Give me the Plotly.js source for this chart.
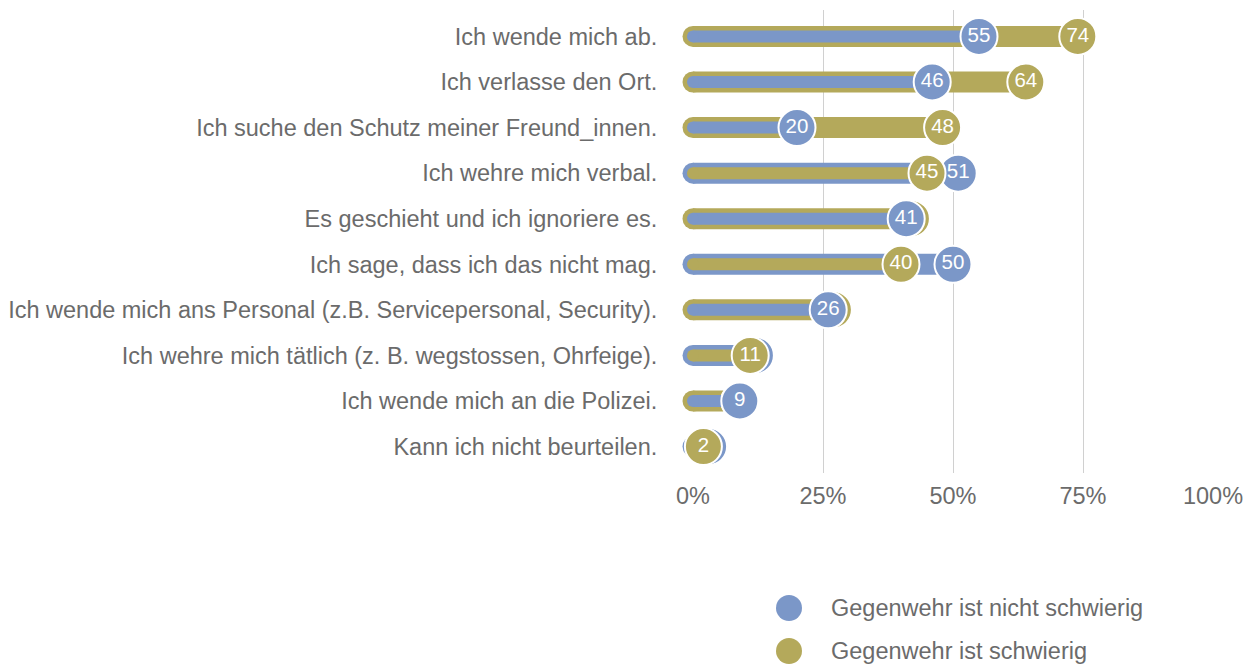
<!DOCTYPE html>
<html>
<head>
<meta charset="utf-8">
<script src="https://cdn.plot.ly/plotly-3.0.1.min.js"></script>
<style>html,body{margin:0;padding:0;background:#fff;}#chart{width:1252px;height:664px;}</style>
</head>
<body>
<div id="chart"></div>
<script>
const categories = [
  "Ich wende mich ab.",
  "Ich verlasse den Ort.",
  "Ich suche den Schutz meiner Freund_innen.",
  "Ich wehre mich verbal.",
  "Es geschieht und ich ignoriere es.",
  "Ich sage, dass ich das nicht mag.",
  "Ich wende mich ans Personal (z.B. Servicepersonal, Security).",
  "Ich wehre mich tätlich (z. B. wegstossen, Ohrfeige).",
  "Ich wende mich an die Polizei.",
  "Kann ich nicht beurteilen."
];
const nichtSchwierig = [55, 46, 20, 51, 41, 50, 26, 12, 9, 3];
const schwierig      = [74, 64, 48, 45, 42, 40, 27, 11, 9, 2];
const seriesNames = ["Gegenwehr ist nicht schwierig", "Gegenwehr ist schwierig"];
const seriesColors = ["#7b97c8", "#b4a95b"];
const xTickVals = [0, 25, 50, 75, 100];
const xTickText = ["0%", "25%", "50%", "75%", "100%"];

const FONT = "Liberation Sans, Arial, Helvetica, sans-serif";
const GRAY = "#6b6b6b";
const FS = 23.5;
const OUTER_W = 21, INNER_W = 12, DOT = 37;

function lollipop(cat, v, color, w, showLabel) {
  return {
    type: "scatter",
    x: [0, v],
    y: [cat, cat],
    mode: "lines+markers+text",
    line: {color: color, width: w},
    marker: {
      size: [w, DOT],
      opacity: 1,
      color: color,
      line: {color: ["rgba(0,0,0,0)", "#ffffff"], width: [0, 2]}
    },
    text: ["", showLabel ? String(Math.round(v)) : ""],
    textposition: "middle center",
    textfont: {color: "#ffffff", size: 20.5, family: FONT},
    cliponaxis: false,
    showlegend: false,
    hoverinfo: "skip"
  };
}

const traces = [];
categories.forEach((cat, i) => {
  const b = nichtSchwierig[i], o = schwierig[i];
  // the back circle's label is hidden when the front circle covers it
  const backVisible = Math.abs(o - b) >= 4;
  if (o >= b) {
    traces.push(lollipop(cat, o, seriesColors[1], OUTER_W, backVisible));
    traces.push(lollipop(cat, b, seriesColors[0], INNER_W, true));
  } else {
    traces.push(lollipop(cat, b, seriesColors[0], OUTER_W, backVisible));
    traces.push(lollipop(cat, o, seriesColors[1], INNER_W, true));
  }
});

const plotL = 693, plotR = 1213, plotT = 10, plotB = 473;
const pw = plotR - plotL, ph = plotB - plotT;
const legendX = 789, legendTextX = 829, legendY = [608, 651];
const shapes = [], annotations = [];
seriesNames.forEach((name, k) => {
  const px = (legendX - plotL) / pw;
  const py = (plotB - legendY[k]) / ph;
  shapes.push({
    type: "circle", xref: "paper", yref: "paper",
    xsizemode: "pixel", ysizemode: "pixel",
    xanchor: px, yanchor: py,
    x0: -13, x1: 13, y0: -13, y1: 13,
    fillcolor: seriesColors[k], line: {width: 0}
  });
  annotations.push({
    xref: "paper", yref: "paper",
    x: (legendTextX - plotL) / pw, y: py,
    xanchor: "left", yanchor: "middle",
    text: name, showarrow: false,
    font: {family: FONT, size: FS, color: GRAY}
  });
});

const layout = {
  width: 1252, height: 664,
  margin: {l: plotL, r: 1252 - plotR, t: plotT, b: 664 - plotB},
  paper_bgcolor: "#ffffff", plot_bgcolor: "#ffffff",
  font: {family: FONT, color: GRAY, size: FS},
  showlegend: false,
  hovermode: false,
  xaxis: {
    range: [0, 100], tickvals: xTickVals, ticktext: xTickText,
    showgrid: true, gridcolor: "#d0d0d0", gridwidth: 1,
    zeroline: false, showline: false,
    ticks: "outside", ticklen: 2, tickcolor: "rgba(0,0,0,0)",
    tickfont: {family: FONT, size: FS, color: GRAY},
    fixedrange: true
  },
  yaxis: {
    type: "category", categoryarray: categories, categoryorder: "array",
    range: [9.58, -0.58],
    showgrid: false, zeroline: false, showline: false,
    ticks: "outside", ticklen: 30, tickcolor: "rgba(0,0,0,0)",
    tickfont: {family: FONT, size: FS, color: GRAY},
    fixedrange: true
  },
  shapes: shapes,
  annotations: annotations
};

Plotly.newPlot("chart", traces, layout, {displayModeBar: false, staticPlot: true});
</script>
</body>
</html>
